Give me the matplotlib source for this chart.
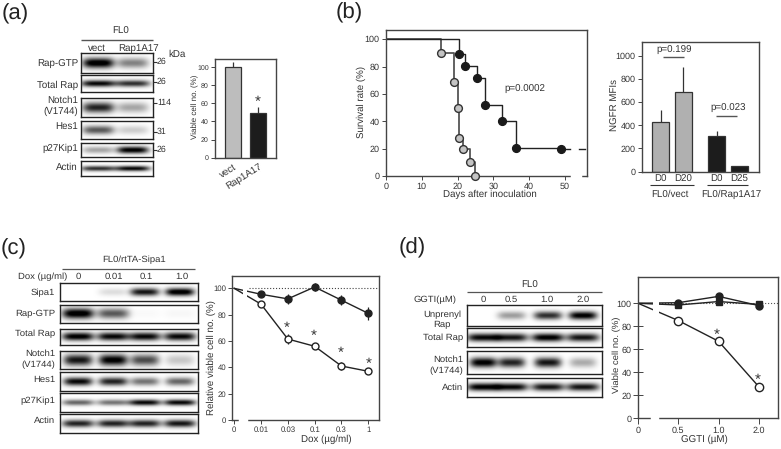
import numpy as np
import matplotlib
matplotlib.use("Agg")
import matplotlib.pyplot as plt

plt.rcParams['font.family'] = ['Liberation Sans', 'DejaVu Sans']
plt.rcParams['text.hinting'] = 'no_hinting'
W, H = 781, 449
TC = '#333333'
LC = '#2a2a2a'

# ---- data ----
a_cats = ['vect', 'Rap1A17']
a_vals = [100, 49]
a_errs = [5, 7]

km_gray_x = [0, 15.5, 19, 20, 20.4, 21.4, 23.5, 25]
km_gray_y = [100, 90, 69, 50, 27.5, 20, 10.5, 0]
km_black_x = [0, 20.5, 22, 25.3, 27.8, 32.3, 36.3, 48.8, 51.5]
km_black_y = [100, 89.5, 80.5, 71.5, 52, 40, 20.5, 20, 20]

ngfr_cats = ['D0', 'D20', 'D0', 'D25']
ngfr_vals = [425, 690, 305, 45]
ngfr_errs = [105, 210, 45, 8]

dox_labels = ['0', '0.01', '0.03', '0.1', '0.3', '1']
dox_ctrl = [100, 95.5, 92, 101, 91, 81]
dox_ctrl_err = [0, 2, 4, 3, 4, 5]
dox_sipa = [100, 88, 61.5, 56, 41, 37]
dox_sipa_err = [0, 1, 4, 1, 3, 2]

ggti_labels = ['0', '0.5', '1.0', '2.0']
ggti_a = [100, 100.5, 106, 98]
ggti_b = [100, 98.5, 101.5, 99]
ggti_c = [100, 85, 67, 27.5]

# blot band intensities per lane
a_lanes = [0.24, 0.72]
a_blots = [
    ('Rap-GTP', [1.0, 0.45], 0.22, 0.26, 53, 73),
    ('Total Rap', [0.9, 0.75], 0.24, 0.20, 75, 92),
    ('Notch1', [0.8, 0.32], 0.22, 0.28, 98, 117),
    ('Hes1', [0.6, 0.18], 0.22, 0.25, 121, 139),
    ('p27Kip1', [0.32, 0.95], 0.22, 0.26, 143, 157),
    ('Actin', [0.75, 0.9], 0.24, 0.18, 161, 176),
]
c_lanes = [0.13, 0.385, 0.615, 0.87]
c_blots = [
    ('Sipa1', [0.0, 0.12, 0.85, 1.0], 0.105, 0.22, 283.3, 301.3),
    ('Rap-GTP', [1.0, 0.6, 0.02, 0.03], 0.115, 0.28, 304.7, 322.7),
    ('Total Rap', [0.95, 0.9, 0.9, 0.9], 0.115, 0.25, 328.7, 345),
    ('Notch1', [0.85, 0.95, 0.65, 0.2], 0.105, 0.32, 350.7, 368.7),
    ('Hes1', [0.9, 0.8, 0.5, 0.55], 0.105, 0.22, 372.3, 390.7),
    ('p27Kip1', [0.55, 0.5, 0.9, 0.9], 0.115, 0.16, 393.3, 411.7),
    ('Actin', [0.8, 0.8, 0.8, 0.85], 0.115, 0.2, 414.3, 432.7),
]
d_lanes = [0.12, 0.33, 0.6, 0.86]
d_blots = [
    ('Unprenyl', [0.0, 0.35, 0.75, 0.95], 0.105, 0.2, 305.3, 325.7),
    ('Total Rap', [0.9, 0.85, 0.95, 0.85], 0.12, 0.22, 328.3, 346.7),
    ('Notch1', [0.95, 0.8, 0.85, 0.3], 0.1, 0.22, 351.3, 374),
    ('Actin', [0.95, 0.9, 0.85, 0.85], 0.12, 0.2, 378, 397.3),
]

fig = plt.figure(figsize=(W / 100, H / 100), dpi=100, facecolor='white')


def px_axes(x0, y0, x1, y1):
    return fig.add_axes([x0 / W, 1 - y1 / H, (x1 - x0) / W, (y1 - y0) / H])


ov = fig.add_axes([0, 0, 1, 1], zorder=10)
ov.set_xlim(0, W)
ov.set_ylim(H, 0)
ov.axis('off')
ov.patch.set_alpha(0)


def T(x, y, s, size=7, ha='center', va='center', **kw):
    ov.text(x, y, s, fontsize=size, ha=ha, va=va, color=kw.pop('color', TC), **kw)


def HL(x0, x1, y, lw=1.0, color='#555555'):
    ov.plot([x0, x1], [y, y], color=color, lw=lw, solid_capstyle='butt')


def blot(x0, x1, lanes, row):
    _, ints, w, h, y0, y1 = row
    ax = px_axes(x0, y0, x1, y1)
    xx = np.linspace(0, 1, int(x1 - x0) * 2)
    yy = np.linspace(0, 1, int(y1 - y0) * 2)
    img = np.zeros((len(yy), len(xx)))
    for c, a in zip(lanes, ints):
        img += a * np.exp(-(np.abs(xx - c) / w) ** 4)[None, :] * np.exp(-((yy - 0.5) / h) ** 2)[:, None]
    ax.imshow(1 - np.clip(img * 1.1, 0, 1), cmap='gray', vmin=0, vmax=1, aspect='auto', extent=[0, 1, 1, 0], interpolation='bilinear')
    ax.set_xticks([])
    ax.set_yticks([])
    for s in ax.spines.values():
        s.set_linewidth(1.0)
        s.set_color('#222222')


def style(ax, ls=6.5, length=3):
    ax.set_facecolor('none')
    for s in ax.spines.values():
        s.set_linewidth(1.0)
        s.set_color('#444444')
    ax.tick_params(labelsize=ls, length=length, width=0.7, color='#444444', labelcolor=TC, pad=1.5)


# ---- panel a ----
T(15, 14, '(a)', 16, color='#222222')
T(121, 31, 'FL0')
HL(81, 153, 40)
T(97, 48.5, 'vect')
T(139, 48.5, 'Rap1A17')
T(177, 54.5, 'kDa')
for r in a_blots:
    blot(81, 153, a_lanes, r)
for y, s in [(64, 'Rap-GTP'), (85, 'Total Rap'), (100, 'Notch1'), (111, '(V1744)'), (126, 'Hes1'), (148, 'p27Kip1'), (167, 'Actin')]:
    T(78, y, s, ha='right')
for y, s in [(62, '26'), (82, '26'), (103, '114'), (132, '31'), (150, '26')]:
    HL(153, 157, y, 0.8, '#333333')
    T(157, y, s, 6.3, ha='left')

ax = px_axes(215, 59, 276, 157.7)
ax.set_xlim(-0.70, 1.71)
ax.set_ylim(0, 108.8)
ax.bar([0, 1], a_vals, width=0.63, color=['#bdbdbd', '#1c1c1c'], edgecolor='#333333', lw=0.9,
       yerr=[[0, 0], a_errs], error_kw=dict(ecolor='#333333', lw=0.9, capsize=0))
style(ax, 5)
ax.set_yticks(range(0, 101, 20))
ax.set_xticks([])
T(195, 107, 'Viable cell no. (%)', 5.8, rotation=90)
T(258, 102, '*', 11)
T(233, 162, a_cats[0], 7, ha='right', va='top', rotation=32, rotation_mode='anchor')
T(259, 162, a_cats[1], 7, ha='right', va='top', rotation=32, rotation_mode='anchor')

# ---- panel b ----
T(349, 13, '(b)', 16, color='#222222')
ax = px_axes(386, 29.7, 586.7, 176)
ax.set_xlim(0, 56.1)
ax.set_ylim(0, 106.9)
style(ax, 6.5)
ax.step(km_gray_x, km_gray_y, where='post', color='#555555', lw=1.3, zorder=2)
ax.step(km_black_x, km_black_y, where='post', color='#222222', lw=1.0, zorder=2)
ax.plot(km_gray_x[1:], km_gray_y[1:], 'o', ms=5.6, mfc='#c4c4c4', mec='#333333', mew=1.0, zorder=3, clip_on=False)
ax.plot(km_black_x[1:-1], km_black_y[1:-1], 'o', ms=5.6, mfc='#1a1a1a', mec='#1a1a1a', zorder=4)
ax.plot([54.0, 55.5], [20, 20], color='#222222', lw=1)
ax.set_xticks(range(0, 51, 10))
ax.set_yticks(range(0, 101, 20))
T(490, 194.5, 'Days after inoculation', 7)
T(361, 102, 'Survival rate (%)', 7, rotation=90)
ax.plot([51.9, 54.1], [0, 0], color='white', lw=2.5, clip_on=False, zorder=5)
T(525, 89.5, 'p=0.0002', 7)

ax = px_axes(641.7, 42.3, 759.3, 171.7)
ngfr_x = [660.7, 683.3, 716.7, 739.3]
ax.set_xlim(641.7, 759.3)
ax.set_ylim(0, 1115)
ax.bar(ngfr_x, ngfr_vals, width=16.7, color=['#b0b0b0', '#b0b0b0', '#1c1c1c', '#1c1c1c'], edgecolor='#333333', lw=0.9,
       yerr=[[0] * 4, ngfr_errs], error_kw=dict(ecolor='#333333', lw=0.9, capsize=0))
style(ax, 6.5)
ax.set_yticks(range(0, 1001, 200))
ax.set_xticks([])
T(615, 105, 'NGFR MFIs', 7, rotation=90)
for x, s in zip(ngfr_x, ngfr_cats):
    T(x, 179.5, s, 7)
T(674, 50, 'p=0.199', 7)
HL(663, 684, 56.5, 1.0)
T(728, 108.5, 'p=0.023', 7)
HL(716, 737, 115.5, 1.0)
HL(650, 694, 185, 0.8, '#333333')
HL(707, 748, 185, 0.8, '#333333')
T(670, 194.5, 'FL0/vect', 7)
T(731, 194.5, 'FL0/Rap1A17', 7)

# ---- panel c ----
T(14, 249, '(c)', 16, color='#222222')
T(134, 260, 'FL0/rtTA-Sipa1', 6.8)
HL(62, 195, 269, 0.9)
T(17.5, 277, 'Dox (\u00b5g/ml)', 6.8, ha='left')
for x, s in zip([78, 114, 146, 182], ['0', '0.01', '0.1', '1.0']):
    T(x, 276.5, s, 6.8)
for r in c_blots:
    blot(60, 198, c_lanes, r)
for y, s in [(293, 'Sipa1'), (313.5, 'Rap-GTP'), (334, 'Total Rap'), (353.5, 'Notch1'), (364.5, '(V1744)'), (379.5, 'Hes1'), (401, 'p27Kip1'), (421, 'Actin')]:
    T(55, y, s, 6.8, ha='right')

ax = px_axes(232.3, 275.7, 379, 420)
ax.set_xlim(-0.07, 5.4)
ax.set_ylim(0, 109.6)
style(ax, 5.6)
xc = np.arange(len(dox_labels))
ax.plot([0.55, 5.4], [100, 100], color='#444444', lw=0.8, ls=':', zorder=1)
ax.plot(xc, dox_ctrl, '-', color='#222222', lw=1.0, zorder=2)
ax.plot(xc, dox_sipa, '-', color='#222222', lw=1.0, zorder=2)
ax.errorbar(xc[1:], dox_ctrl[1:], yerr=dox_ctrl_err[1:], fmt='o', color='#222222', ms=5, elinewidth=0.9, zorder=3)
ax.errorbar(xc[1:], dox_sipa[1:], yerr=dox_sipa_err[1:], fmt='o', color='#222222', mfc='white', mec='#222222', mew=1.0, ms=5, elinewidth=0.9, zorder=3)
ax.set_xticks(xc)
ax.set_xticklabels(dox_labels)
ax.set_yticks(range(0, 101, 20))
ax.axvspan(0.32, 0.48, ymin=0.6, ymax=0.95, color='white', zorder=2.5, lw=0)
ax.plot([0.21, 0.43], [0, 0], color='white', lw=2.5, clip_on=False, zorder=5)
T(211, 358, 'Relative viable cell no. (%)', 7, rotation=90)
T(326, 439, 'Dox (\u00b5g/ml)', 7)
for x, y in [(287, 328), (314, 336), (341, 353), (368.5, 364)]:
    T(x, y, '*', 11)

# ---- panel d ----
T(412, 248, '(d)', 16, color='#222222')
T(530, 285, 'FL0', 7)
HL(467, 602, 291.5, 0.9)
T(414, 300, 'GGTI(\u00b5M)', 6.8, ha='left')
for x, s in zip([483, 511, 547, 583], ggti_labels):
    T(x, 300, s, 6.8)
for r in d_blots:
    blot(467.3, 602.3, d_lanes, r)
for y, s, x in [(314.5, 'Unprenyl', 461), (324.5, 'Rap', 451), (338, 'Total Rap', 463), (360, 'Notch1', 463), (370.5, '(V1744)', 463), (388, 'Actin', 463)]:
    T(x, y, s, 6.8, ha='right')

ax = px_axes(638, 276.7, 777.7, 418.3)
ax.set_xlim(0, 3.47)
ax.set_ylim(0, 123.1)
style(ax, 6.5, 4)
ax.tick_params(axis='y', direction='inout', length=7, pad=1)
xd = np.arange(len(ggti_labels))
ax.plot([0, 3.47], [100, 100], color='#555555', lw=0.8, ls=':', zorder=1)
ax.plot(xd, ggti_a, '-', color='#222222', lw=1.0, zorder=2)
ax.plot(xd, ggti_b, '-', color='#222222', lw=1.0, zorder=2)
ax.plot(xd, ggti_c, '-', color='#222222', lw=1.0, zorder=2)
ax.plot(xd[1:], ggti_a[1:], 'o', color='#222222', ms=5, zorder=3)
ax.plot(xd[1:], ggti_b[1:], 's', color='#222222', ms=4.2, zorder=3)
ax.plot(xd[1:], ggti_c[1:], 'o', color='#222222', mfc='white', mew=1.0, ms=6, zorder=4)
ax.set_xticks(xd)
ax.set_xticklabels(ggti_labels)
ax.set_yticks(range(0, 101, 20))
ax.axvspan(0.38, 0.52, ymin=0.65, ymax=0.86, color='white', zorder=2.5, lw=0)
ax.plot([0.36, 0.46], [0, 0], color='white', lw=2.5, clip_on=False, zorder=6)
T(617, 355, 'Viable cell no. (%)', 6.8, rotation=90)
T(704, 439, 'GGTI (\u00b5M)', 7)
T(717, 335, '*', 11)
T(758, 380, '*', 11)

fig.savefig('out.png', dpi=100)
